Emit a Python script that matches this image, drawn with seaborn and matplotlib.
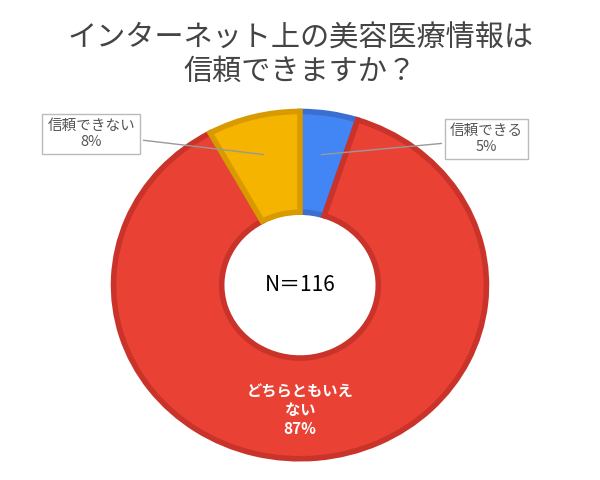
import matplotlib
matplotlib.use("Agg")
import matplotlib.pyplot as plt
import seaborn as sns

sns.set_theme(style="white")
plt.rcParams['font.family'] = ['Noto Sans CJK JP', 'DejaVu Sans']

labels = ["信頼できる", "どちらともいえない", "信頼できない"]
values = [5, 87, 8]
colors = ["#4285f4", "#e94235", "#f4b400"]
edges = ["#3a6fd0", "#c9332a", "#d99a00"]

fig = plt.figure(figsize=(6, 4.8), dpi=100)
ax = fig.add_axes([0.5 - 0.317, 0.406 - 0.369, 0.634, 0.738])
wedges, _ = ax.pie(values, colors=colors, startangle=90, counterclock=False,
                   wedgeprops=dict(width=0.58, linewidth=4))
for w, e in zip(wedges, edges):
    w.set_edgecolor(e)
ax.set_aspect("auto")
ax.set_xlim(-1.02, 1.02)
ax.set_ylim(-1.02, 1.02)

fig.text(0.5, 0.885, "インターネット上の美容医療情報は\n信頼できますか？", ha="center", va="center",
         fontsize=21, color="#444444", linespacing=1.15)
ax.text(0, 0, "N＝116", ha="center", va="center", fontsize=15, color="black")
ax.text(0, -0.72, "どちらともいえ\nない\n87%", ha="center", va="center", fontsize=11,
        color="white", fontweight="bold", linespacing=1.2)

box = dict(boxstyle="square,pad=0.35", fc="white", ec="#bbbbbb", lw=1)
ax.annotate("信頼できない\n8%", xy=(-0.18, 0.75), xytext=(-1.12, 0.87), ha="center", va="center",
            fontsize=10.5, color="#555555", bbox=box,
            arrowprops=dict(arrowstyle="-", color="#999999", lw=1))
ax.annotate("信頼できる\n5%", xy=(0.10, 0.75), xytext=(1.0, 0.84), ha="center", va="center",
            fontsize=10.5, color="#555555", bbox=box,
            arrowprops=dict(arrowstyle="-", color="#999999", lw=1))

fig.savefig("out.png", dpi=100)
